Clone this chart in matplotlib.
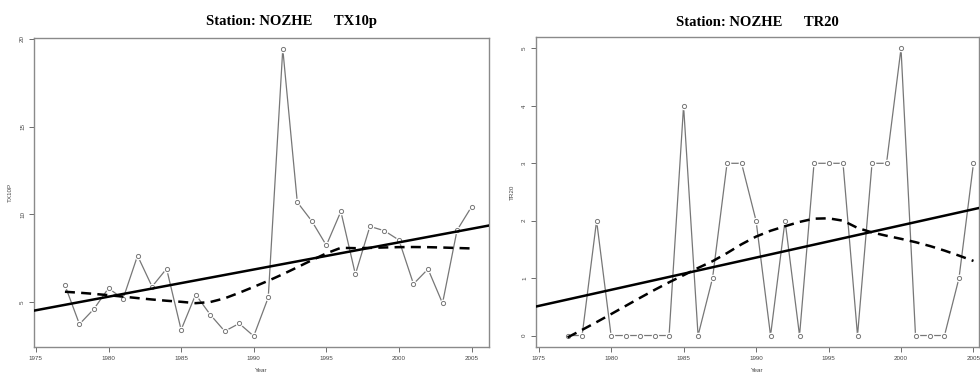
import numpy as np
import matplotlib
matplotlib.use("Agg")
import matplotlib.pyplot as plt

# data
years = list(range(1977, 2006))
tx10p = [5.97, 3.75, 4.62, 5.80, 5.19, 7.65, 5.89, 6.91, 3.43, 5.44,
         4.30, 3.35, 3.79, 3.07, 5.27, 19.43, 10.70, 9.62, 8.24, 10.17,
         6.59, 9.32, 9.07, 8.54, 6.04, 6.89, 4.94, 9.10, 10.44]
tr20 = [0, 0, 2, 0, 0, 0, 0, 0, 4, 0, 1, 3, 3, 2, 0, 2, 0, 3, 3, 3,
        0, 3, 3, 5, 0, 0, 0, 1, 3]
station = "NOZHE"
x_ticks = [1975, 1980, 1985, 1990, 1995, 2000, 2005]
tx_ticks = [5, 10, 15, 20]
tr_ticks = [0, 1, 2, 3, 4, 5]


def lowess(x, y, f=2/3, nsteps=3):
    # port of R's clowess (no delta skipping needed for this n)
    x = np.asarray(x, float)
    y = np.asarray(y, float)
    n = len(x)
    ns = max(min(int(f * n + 1e-7), n), 2)
    rng = x[-1] - x[0]
    rw = np.ones(n)
    ys = np.zeros(n)
    for it in range(nsteps + 1):
        nleft, nright = 0, ns - 1
        for i in range(n):
            while nright < n - 1 and x[i] - x[nleft] > x[nright + 1] - x[i]:
                nleft += 1
                nright += 1
            h = max(x[i] - x[nleft], x[nright] - x[i])
            h9, h1 = 0.999 * h, 0.001 * h
            w = np.zeros(n)
            for j in range(nleft, n):
                r = abs(x[j] - x[i])
                if r <= h9:
                    w[j] = 1.0 if r <= h1 else (1 - (r / h) ** 3) ** 3
                    w[j] *= rw[j]
                elif x[j] > x[i]:
                    break
            s = w.sum()
            if s <= 0:
                ys[i] = y[i]
                continue
            w /= s
            if h > 0:
                a = np.sum(w * x)
                b = x[i] - a
                c = np.sum(w * (x - a) ** 2)
                if np.sqrt(c) > 0.001 * rng:
                    b /= c
                    w = w * (b * (x - a) + 1)
            ys[i] = np.sum(w * y)
        if it == nsteps:
            break
        res = y - ys
        cmad = 6 * np.median(np.abs(res))
        if cmad < 1e-7 * np.mean(np.abs(y)):
            break
        r = np.abs(res)
        rw = np.where(r <= 0.001 * cmad, 1.0,
                      np.where(r <= 0.999 * cmad, (1 - (r / cmad) ** 2) ** 2, 0.0))
    return ys


def panel(ax, vals, name, yticks, ylim, xlim):
    x = np.array(years, float)
    v = np.array(vals, float)
    ax.plot(x, v, color="#777777", lw=0.9, zorder=2)
    ax.plot(x, v, ls="none", marker="o", ms=5.5, mfc="white", mec="none", zorder=3)
    ax.plot(x, v, ls="none", marker="o", ms=3.0, mfc="white", mec="#777777",
            mew=0.7, zorder=4)
    k, b = np.polyfit(x, v, 1)
    xx = np.array(xlim)
    ax.plot(xx, k * xx + b, color="black", lw=1.8, zorder=5)
    ax.plot(x, lowess(x, v), color="black", lw=1.8, ls=(0, (4, 2.5)), zorder=5)
    ax.set_xlim(xlim)
    ax.set_ylim(ylim)
    ax.set_xticks(x_ticks)
    ax.set_yticks(yticks)
    ax.set_xticklabels([str(t) for t in x_ticks])
    ax.set_yticklabels([str(t) for t in yticks], rotation=90, va="center")
    ax.tick_params(labelsize=4.5, labelcolor="#444444", color="#555555",
                   length=3.5, width=0.6, pad=3)
    for sp in ax.spines.values():
        sp.set_color("#8a8a8a")
        sp.set_linewidth(1.0)
    ax.set_ylabel(name, fontsize=4.5, color="#444444", labelpad=5)
    ax.set_xlabel("Year", fontsize=4.5, color="#444444", labelpad=5)


fig = plt.figure(figsize=(9.8, 3.74), dpi=100)
plt.rcParams["font.family"] = ["Liberation Sans", "DejaVu Sans"]

ax1 = fig.add_axes([34 / 980, 1 - 347 / 374, (489 - 34) / 980, (347 - 38) / 374])
panel(ax1, tx10p, "TX10P", tx_ticks, (2.45, 20.05), (1974.87, 2006.2))

ax2 = fig.add_axes([536 / 980, 1 - 347 / 374, (979 - 536) / 980, (347 - 37) / 374])
panel(ax2, tr20, "TR20", tr_ticks, (-0.2, 5.2), (1974.82, 2005.38))

title_kw = dict(ha="center", va="center", fontsize=10.5, fontweight="bold",
                family=["Liberation Serif", "DejaVu Serif"])
fig.text(291 / 980, 1 - 21 / 374, f"Station: {station}      TX10p", **title_kw)
fig.text(757 / 980, 1 - 22 / 374, f"Station: {station}      TR20", **title_kw)

fig.savefig("out.png", dpi=100)
